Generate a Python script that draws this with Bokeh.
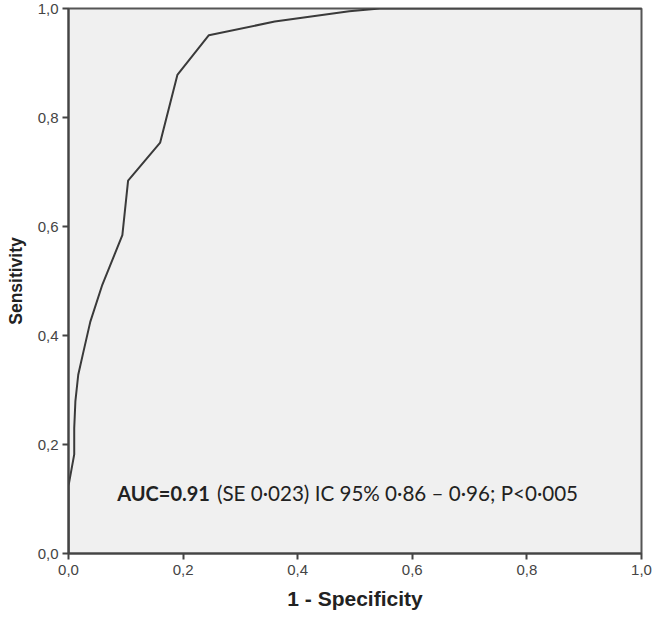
from bokeh.plotting import figure
from bokeh.models import FixedTicker, Range1d, Label
from bokeh.embed import file_html
from bokeh.resources import INLINE

# ROC curve points
fpr = [0.0, 0.0, 0.010, 0.010, 0.012, 0.017, 0.026, 0.038, 0.059, 0.094, 0.104, 0.160, 0.190, 0.245, 0.360, 0.490, 0.543, 1.0]
tpr = [0.0, 0.124, 0.182, 0.230, 0.279, 0.328, 0.370, 0.425, 0.493, 0.584, 0.684, 0.754, 0.878, 0.951, 0.976, 0.995, 1.0, 1.0]

tick_values = [0.0, 0.2, 0.4, 0.6, 0.8, 1.0]
tick_labels = ["0,0", "0,2", "0,4", "0,6", "0,8", "1,0"]

auc_bold = "AUC=0.91"
auc_rest = "(SE 0·023) IC 95% 0·86 – 0·96; P<0·005"
x_title = "1 - Specificity"
y_title = "Sensitivity"

p = figure(frame_width=573, frame_height=545, min_border_left=68, min_border_top=8,
           min_border_right=12, min_border_bottom=66,
           x_range=Range1d(0, 1), y_range=Range1d(0, 1),
           output_backend="svg", toolbar_location=None,
           background_fill_color="#f0f0f0", border_fill_color="white")

p.line(fpr, tpr, line_color="#3a3a3a", line_width=2)

for ax in (p.xaxis[0], p.yaxis[0]):
    ax.ticker = FixedTicker(ticks=tick_values)
    ax.major_label_overrides = {v: s for v, s in zip(tick_values, tick_labels)}
    ax.major_tick_out = 6
    ax.major_tick_in = 0
    ax.minor_tick_line_color = None
    ax.axis_line_color = "#444444"
    ax.axis_line_width = 2
    ax.major_tick_line_color = "#444444"
    ax.major_tick_line_width = 2
    ax.major_label_text_font = "Liberation Sans"
    ax.major_label_text_font_size = "15px"
    ax.major_label_text_color = "#444444"
    ax.axis_label_text_font = "Liberation Sans"
    ax.axis_label_text_font_style = "bold"
    ax.axis_label_text_color = "#222222"

p.xaxis.axis_label = x_title
p.yaxis.axis_label = y_title
p.xaxis.axis_label_text_font_size = "21px"
p.yaxis.axis_label_text_font_size = "17.5px"
p.xaxis.major_label_standoff = 5
p.xaxis.axis_label_standoff = 9
p.yaxis.major_label_standoff = 4
p.yaxis.axis_label_standoff = 9

p.xgrid.grid_line_color = None
p.ygrid.grid_line_color = None
p.outline_line_color = "#555555"
p.outline_line_width = 2

p.add_layout(Label(x=0.085, y=0.111, text=auc_bold, text_font="Lato", text_font_style="bold",
                   text_font_size="20px", text_color="#222222", text_baseline="middle"))
p.add_layout(Label(x=0.259, y=0.111, text=auc_rest, text_font="Lato",
                   text_font_size="20.6px", text_color="#222222", text_baseline="middle"))

open("out.html", "w").write(file_html(p, INLINE))
